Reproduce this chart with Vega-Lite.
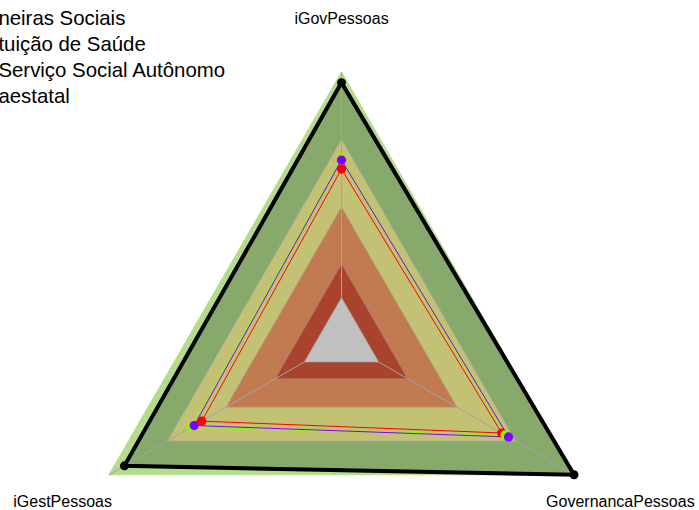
{
  "$schema": "https://vega.github.io/schema/vega-lite/v6.json",
  "width": 699,
  "height": 510,
  "padding": 0,
  "autosize": "none",
  "background": "white",
  "config": {
    "view": {"stroke": null},
    "legend": {
      "orient": "none",
      "legendX": -26,
      "legendY": 8.5,
      "title": null,
      "labelFontSize": 20.4,
      "labelFont": "Liberation Sans",
      "labelColor": "black",
      "labelLimit": 0,
      "rowPadding": 5.0,
      "symbolSize": 100,
      "labelOffset": 4,
      "padding": 0
    }
  },
  "data": {
    "values": [
      {"kind": "band", "name": "b100", "iGovPessoas": 1, "GovernancaPessoas": 1, "iGestPessoas": 1},
      {"kind": "ref", "name": "ref", "iGovPessoas": 0.953, "GovernancaPessoas": 1.0, "iGestPessoas": 0.921},
      {"kind": "band", "name": "b070", "iGovPessoas": 0.7, "GovernancaPessoas": 0.7, "iGestPessoas": 0.7},
      {"kind": "band", "name": "b040", "iGovPessoas": 0.4, "GovernancaPessoas": 0.4, "iGestPessoas": 0.4},
      {"kind": "band", "name": "b015", "iGovPessoas": 0.15, "GovernancaPessoas": 0.15, "iGestPessoas": 0.15},
      {"kind": "band", "name": "b000", "iGovPessoas": 0, "GovernancaPessoas": 0, "iGestPessoas": 0},
      {"kind": "series", "name": "neiras Sociais", "iGovPessoas": 0.57, "GovernancaPessoas": 0.63, "iGestPessoas": 0.525},
      {"kind": "series", "name": "tuição de Saúde", "iGovPessoas": 0.617, "GovernancaPessoas": 0.647, "iGestPessoas": 0.581},
      {"kind": "series", "name": "aestatal", "iGovPessoas": 0.61, "GovernancaPessoas": 0.665, "iGestPessoas": 0.564}
    ]
  },
  "transform": [
    {"fold": ["iGovPessoas", "GovernancaPessoas", "iGestPessoas"], "as": ["axis", "value"]},
    {"calculate": "datum.axis == 'iGovPessoas' ? PI/2 : (datum.axis == 'GovernancaPessoas' ? -PI/6 : 7*PI/6)", "as": "a"},
    {"calculate": "datum.axis == 'iGovPessoas' ? 0 : (datum.axis == 'GovernancaPessoas' ? 1 : 2)", "as": "idx"},
    {"calculate": "42.8 + 225.7*datum.value", "as": "r"},
    {"calculate": "datum.r*cos(datum.a)", "as": "x"},
    {"calculate": "datum.r*sin(datum.a)", "as": "y"},
    {"calculate": "42.8*cos(datum.a)", "as": "x0"},
    {"calculate": "42.8*sin(datum.a)", "as": "y0"},
    {"calculate": "322*cos(datum.a)", "as": "lx"},
    {"calculate": "322*sin(datum.a)", "as": "ly"}
  ],
  "encoding": {
    "x": {"field": "x", "type": "quantitative", "scale": {"domain": [-341.5, 357.5], "nice": false, "zero": false}, "axis": null},
    "y": {"field": "y", "type": "quantitative", "scale": {"domain": [-169.5, 340.5], "nice": false, "zero": false}, "axis": null},
    "order": {"field": "idx", "type": "quantitative"}
  },
  "layer": [
    {
      "transform": [{"filter": "datum.name == 'b100'"}],
      "mark": {"type": "line", "interpolate": "linear-closed", "fill": "#b4dc8c", "stroke": "#b4dc8c", "strokeWidth": 1}
    },
    {
      "transform": [{"filter": "datum.kind == 'ref'"}],
      "mark": {"type": "line", "interpolate": "linear-closed", "fill": "#87a96b", "stroke": "#87a96b", "strokeWidth": 1}
    },
    {
      "transform": [{"filter": "datum.name == 'b070'"}],
      "mark": {"type": "line", "interpolate": "linear-closed", "fill": "#c3c173", "stroke": "#b0b0a0", "strokeWidth": 0.8}
    },
    {
      "transform": [{"filter": "datum.name == 'b040'"}],
      "mark": {"type": "line", "interpolate": "linear-closed", "fill": "#c27b50", "stroke": "#b09080", "strokeWidth": 0.8}
    },
    {
      "transform": [{"filter": "datum.name == 'b015'"}],
      "mark": {"type": "line", "interpolate": "linear-closed", "fill": "#a9432d", "stroke": "#b08070", "strokeWidth": 0.8}
    },
    {
      "transform": [{"filter": "datum.name == 'b000'"}],
      "mark": {"type": "line", "interpolate": "linear-closed", "fill": "#c0c0c0", "stroke": "#a8a8a8", "strokeWidth": 0.8}
    },
    {
      "transform": [{"filter": "datum.name == 'b100'"}],
      "mark": {"type": "rule", "color": "#a4a4a4", "strokeWidth": 1},
      "encoding": {
        "x2": {"field": "x0"},
        "y2": {"field": "y0"}
      }
    },
    {
      "transform": [{"filter": "datum.kind == 'series'"}],
      "mark": {"type": "line", "interpolate": "linear-closed", "strokeWidth": 1},
      "encoding": {
        "color": {
          "field": "name",
          "type": "nominal",
          "scale": {
            "domain": ["neiras Sociais", "tuição de Saúde", "Serviço Social Autônomo", "aestatal"],
            "range": ["#FF0000", "#80FF00", "#00FFFF", "#8000FF"]
          }
        }
      }
    },
    {
      "transform": [{"filter": "datum.kind == 'series'"}],
      "mark": {"type": "circle", "size": 85, "opacity": 1},
      "encoding": {
        "color": {"field": "name", "type": "nominal"}
      }
    },
    {
      "transform": [{"filter": "datum.kind == 'ref'"}],
      "mark": {"type": "line", "interpolate": "linear-closed", "stroke": "black", "strokeWidth": 4}
    },
    {
      "transform": [{"filter": "datum.kind == 'ref'"}],
      "mark": {"type": "circle", "size": 80, "color": "black", "opacity": 1}
    },
    {
      "transform": [{"filter": "datum.name == 'b100'"}],
      "mark": {"type": "text", "font": "Liberation Sans", "fontSize": 16, "color": "black", "align": "center", "baseline": "middle"},
      "encoding": {
        "x": {"field": "lx", "type": "quantitative"},
        "y": {"field": "ly", "type": "quantitative"},
        "text": {"field": "axis"}
      }
    }
  ]
}
